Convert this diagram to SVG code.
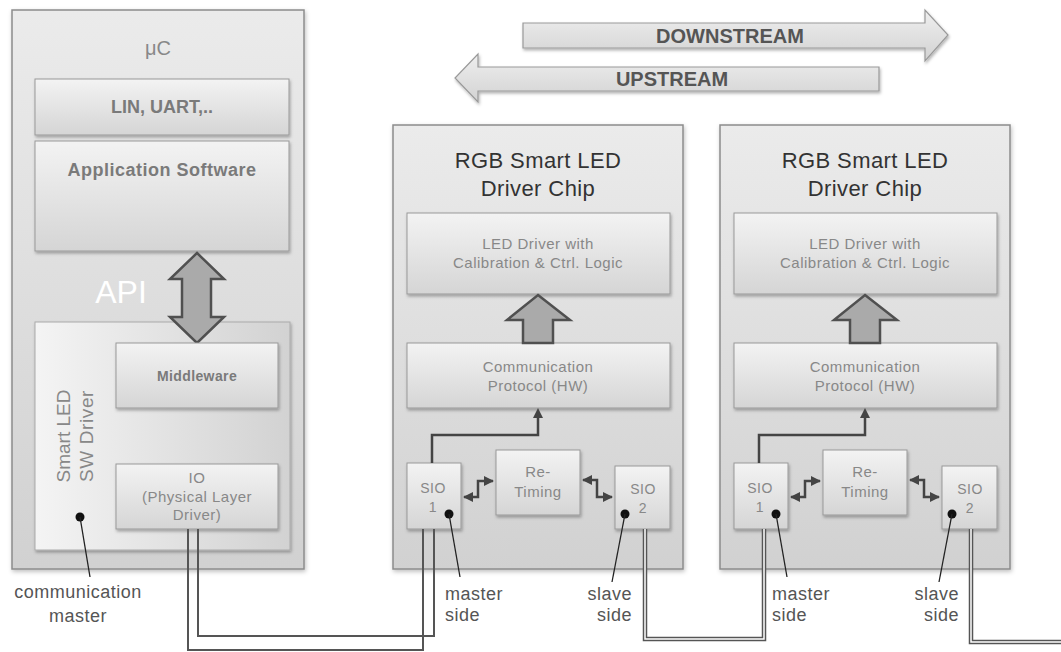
<svg xmlns="http://www.w3.org/2000/svg" width="1061" height="652" viewBox="0 0 1061 652">
<defs>
<linearGradient id="gOuter" x1="0" y1="0" x2="0" y2="1"><stop offset="0" stop-color="#ebebeb"/><stop offset="1" stop-color="#d1d1d1"/></linearGradient>
<linearGradient id="gBox" x1="0" y1="0" x2="0" y2="1"><stop offset="0" stop-color="#f3f3f3"/><stop offset="1" stop-color="#d5d5d5"/></linearGradient>
<linearGradient id="gSw" x1="0" y1="0" x2="1" y2="0"><stop offset="0" stop-color="#f4f4f4"/><stop offset="1" stop-color="#d2d2d2"/></linearGradient>
<linearGradient id="gArr" x1="0" y1="0" x2="0" y2="1"><stop offset="0" stop-color="#efefef"/><stop offset="1" stop-color="#d2d2d2"/></linearGradient>
<filter id="sh" x="-10%" y="-10%" width="120%" height="130%"><feDropShadow dx="1" dy="2" stdDeviation="1.5" flood-color="#000" flood-opacity="0.3"/></filter>
<filter id="sh2" x="-5%" y="-5%" width="110%" height="110%"><feDropShadow dx="1" dy="2" stdDeviation="2" flood-color="#000" flood-opacity="0.25"/></filter>
<marker id="ah" viewBox="0 0 10 10" refX="9" refY="5" markerWidth="4" markerHeight="4" orient="auto-start-reverse"><path d="M0,0 L10,5 L0,10 Z" fill="#444"/></marker>
</defs>
<style>
.outer{fill:url(#gOuter);stroke:#8c8c8c;stroke-width:1.5;filter:url(#sh2)}
.box{fill:url(#gBox);stroke:#999;stroke-width:1;filter:url(#sh)}
.sw{fill:url(#gSw);stroke:#aaa;stroke-width:1;filter:url(#sh)}
.blk{fill:#aaaaaa;stroke:#505050;stroke-width:2.5;stroke-linejoin:miter}
.t{font-family:"Liberation Sans",Arial,sans-serif}
.sm{font-size:15px;fill:#888;letter-spacing:0.5px;text-anchor:middle}
.bd{font-weight:bold;fill:#7a7a7a;text-anchor:middle}
.ttl{font-size:22px;fill:#333;letter-spacing:0.4px;text-anchor:middle}
.lbl{font-size:18px;fill:#555;letter-spacing:0.5px}
.wire{fill:none;stroke:#555;stroke-width:2}
.dbl{fill:none;stroke:#555;stroke-width:4.5}
.dblin{fill:none;stroke:#fff;stroke-width:1.5}
.lead{fill:none;stroke:#222;stroke-width:1.3}
.zz{fill:none;stroke:#444;stroke-width:2.5;marker-start:url(#ah);marker-end:url(#ah)}
.arr{fill:url(#gArr);stroke:#999;stroke-width:1.2;filter:url(#sh)}
</style>

<g id="downstream">
<path class="arr" d="M523,23 H925 V10 L948,35 L925,61 V48 H523 Z"/>
<text class="t bd" x="730" y="43" style="font-size:20px;fill:#555">DOWNSTREAM</text>
</g>
<g id="upstream">
<path class="arr" d="M879,67 H478 V54 L455,78 L478,102 V91 H879 Z"/>
<text class="t bd" x="672" y="86" style="font-size:20px;fill:#555">UPSTREAM</text>
</g>

<g id="uc">
<rect class="outer" x="12" y="10" width="292" height="559"/>
<text class="t" x="158" y="55" style="font-size:20px;fill:#888;text-anchor:middle">μC</text>
</g>
<g id="lin-uart">
<rect class="box" x="35" y="79" width="254" height="56"/>
<text class="t bd" x="162" y="113" style="font-size:18px">LIN, UART,..</text>
</g>
<g id="app-sw">
<rect class="box" x="35" y="141" width="254" height="110"/>
<text class="t bd" x="162" y="176" style="font-size:18px;letter-spacing:0.5px">Application Software</text>
</g>
<g id="sw-driver">
<rect class="sw" x="35" y="322" width="255" height="228"/>
<text class="t" transform="translate(70,436) rotate(-90)" style="font-size:19px;fill:#888;text-anchor:middle">Smart LED</text>
<text class="t" transform="translate(93,436) rotate(-90)" style="font-size:19px;fill:#888;text-anchor:middle;letter-spacing:0.6px">SW  Driver</text>
</g>
<g id="api">
<text class="t" x="121" y="303" style="font-size:32px;fill:#fff;text-anchor:middle">API</text>
<path class="blk" d="M197,253 L224,279 H211 V317 H224 L197,343 L170,317 H182 V279 H170 Z"/>
</g>
<g id="middleware">
<rect class="box" x="116" y="343" width="162" height="65"/>
<text class="t bd" x="197" y="381" style="font-size:14px;letter-spacing:0.4px">Middleware</text>
</g>
<g id="io">
<rect class="box" x="116" y="464" width="162" height="65"/>
<text class="t sm" x="197" y="483">IO</text>
<text class="t sm" x="197" y="502">(Physical Layer</text>
<text class="t sm" x="197" y="520">Driver)</text>
</g>
<g id="comm-master">
<circle cx="80" cy="517" r="4.5" fill="#111"/>
<path class="lead" d="M80,517 L90,577"/>
<text class="t lbl" x="78" y="598" text-anchor="middle">communication</text>
<text class="t lbl" x="78" y="622" text-anchor="middle">master</text>
</g>

<g id="chip1">
<rect class="outer" x="393" y="125" width="290" height="444"/>
<text class="t ttl" x="538" y="168">RGB Smart LED</text>
<text class="t ttl" x="538" y="196">Driver Chip</text>
</g>
<g id="chip1-led">
<rect class="box" x="407" y="213" width="263" height="81"/>
<text class="t sm" x="538" y="249">LED Driver with</text>
<text class="t sm" x="538" y="268">Calibration  &amp; Ctrl. Logic</text>
</g>
<g id="chip1-comm">
<rect class="box" x="407" y="343" width="263" height="65"/>
<text class="t sm" x="538" y="372">Communication</text>
<text class="t sm" x="538" y="391">Protocol (HW)</text>
</g>
<g id="chip1-sio1">
<rect class="box" x="407" y="463" width="54" height="66"/>
<text class="t sm" x="433" y="493" style="font-size:14px">SIO</text>
<text class="t sm" x="433" y="512" style="font-size:14px">1</text>
</g>
<g id="chip1-retiming">
<rect class="box" x="496" y="450" width="84" height="65"/>
<text class="t sm" x="538" y="477">Re-</text>
<text class="t sm" x="538" y="497">Timing</text>
</g>
<g id="chip1-sio2">
<rect class="box" x="615" y="466" width="55" height="63"/>
<text class="t sm" x="643" y="494" style="font-size:14px">SIO</text>
<text class="t sm" x="643" y="513" style="font-size:14px">2</text>
</g>

<g id="chip2">
<rect class="outer" x="720" y="125" width="290" height="444"/>
<text class="t ttl" x="865" y="168">RGB Smart LED</text>
<text class="t ttl" x="865" y="196">Driver Chip</text>
</g>
<g id="chip2-led">
<rect class="box" x="734" y="213" width="263" height="81"/>
<text class="t sm" x="865" y="249">LED Driver with</text>
<text class="t sm" x="865" y="268">Calibration  &amp; Ctrl. Logic</text>
</g>
<g id="chip2-comm">
<rect class="box" x="734" y="343" width="263" height="65"/>
<text class="t sm" x="865" y="372">Communication</text>
<text class="t sm" x="865" y="391">Protocol (HW)</text>
</g>
<g id="chip2-sio1">
<rect class="box" x="734" y="463" width="54" height="66"/>
<text class="t sm" x="760" y="493" style="font-size:14px">SIO</text>
<text class="t sm" x="760" y="512" style="font-size:14px">1</text>
</g>
<g id="chip2-retiming">
<rect class="box" x="823" y="450" width="84" height="65"/>
<text class="t sm" x="865" y="477">Re-</text>
<text class="t sm" x="865" y="497">Timing</text>
</g>
<g id="chip2-sio2">
<rect class="box" x="942" y="466" width="55" height="63"/>
<text class="t sm" x="970" y="494" style="font-size:14px">SIO</text>
<text class="t sm" x="970" y="513" style="font-size:14px">2</text>
</g>

<g id="connectors">
<path class="blk" d="M538,295 L570,320 H553 V343 H523 V320 H507 Z"/>
<path class="blk" d="M865,295 L897,320 H880 V343 H850 V320 H834 Z"/>
<path class="wire" d="M432,463 V435 H538 V416" style="stroke:#444;stroke-width:2.5"/>
<path d="M533,418 L538,408 L543,418 Z" fill="#444"/>
<path class="wire" d="M759,463 V435 H865 V416" style="stroke:#444;stroke-width:2.5"/>
<path d="M860,418 L865,408 L870,418 Z" fill="#444"/>
<path class="zz" d="M464,497 H478 V481 H493"/>
<path class="zz" d="M583,480 H597 V497 H612"/>
<path class="zz" d="M791,497 H805 V481 H820"/>
<path class="zz" d="M910,480 H924 V497 H939"/>
<path class="wire" d="M188,529 V650 H423 V529"/>
<path class="wire" d="M198,529 V636 H434 V529"/>
<path class="dbl" d="M645,529 V639 H764 V529"/>
<path class="dblin" d="M645,529 V639 H764 V529"/>
<path class="dbl" d="M971,529 V642 H1062"/>
<path class="dblin" d="M971,529 V642 H1062"/>
</g>

<g id="side-labels">
<circle cx="449" cy="514" r="4.5" fill="#111"/>
<path class="lead" d="M449,514 L460,577"/>
<text class="t lbl" x="445" y="600">master</text>
<text class="t lbl" x="445" y="621">side</text>
<circle cx="625" cy="514" r="4.5" fill="#111"/>
<path class="lead" d="M625,514 L612,582"/>
<text class="t lbl" x="632" y="600" text-anchor="end">slave</text>
<text class="t lbl" x="632" y="621" text-anchor="end">side</text>
<circle cx="776" cy="514" r="4.5" fill="#111"/>
<path class="lead" d="M776,514 L787,577"/>
<text class="t lbl" x="772" y="600">master</text>
<text class="t lbl" x="772" y="621">side</text>
<circle cx="952" cy="514" r="4.5" fill="#111"/>
<path class="lead" d="M952,514 L939,582"/>
<text class="t lbl" x="959" y="600" text-anchor="end">slave</text>
<text class="t lbl" x="959" y="621" text-anchor="end">side</text>
</g>
</svg>
